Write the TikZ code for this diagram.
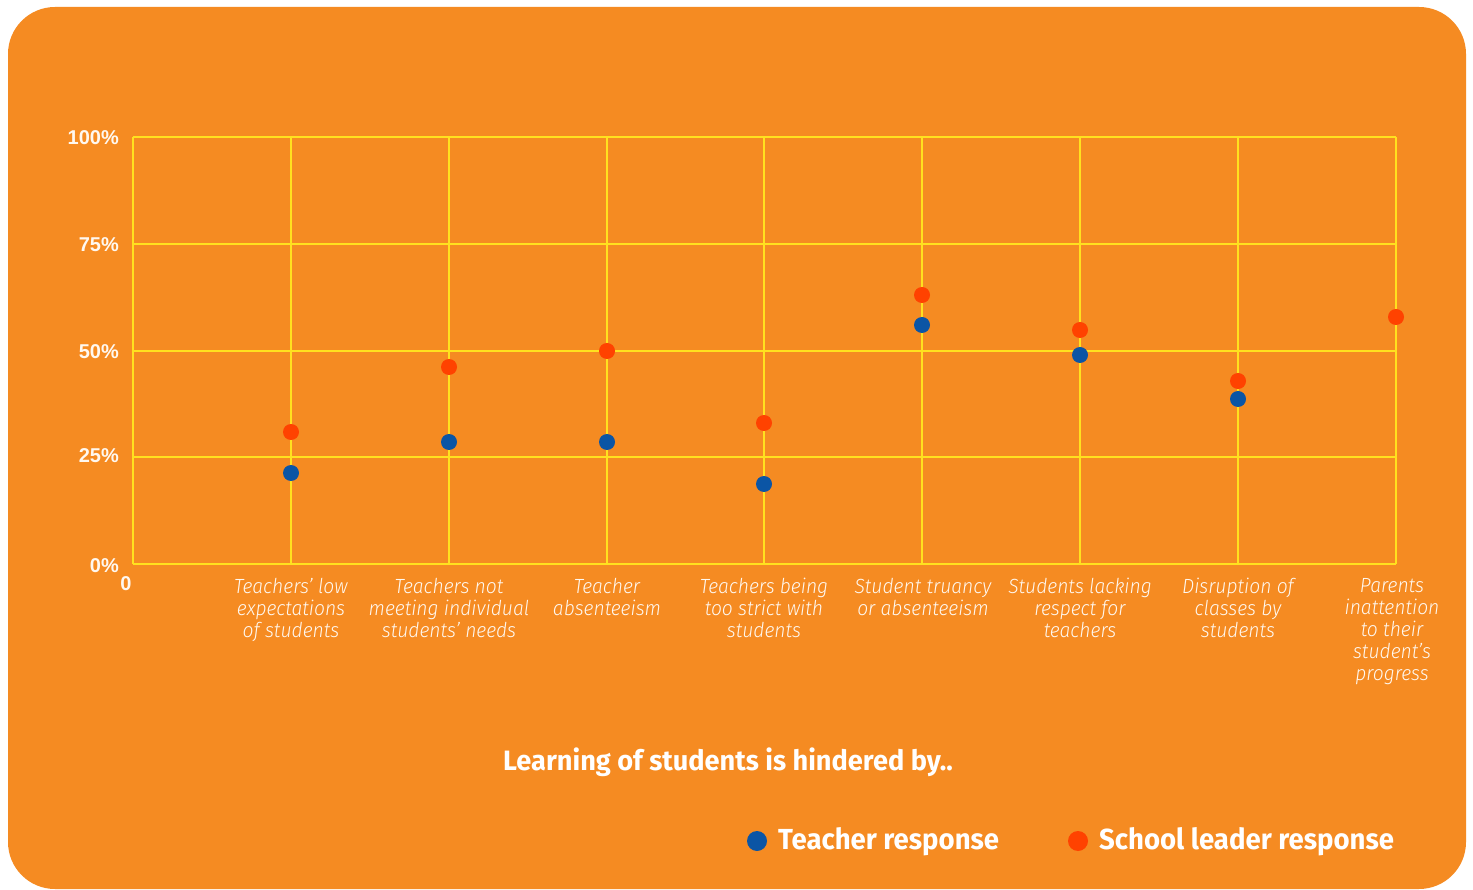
\documentclass[tikz,border=0pt]{standalone}
\usepackage{fontspec}
\setmainfont{Fira Sans}
\newfontfamily\axisfont{Liberation Sans}
\newfontfamily\catfont[FakeStretch=0.94]{Fira Sans Light}
\newfontfamily\titlefont[FakeStretch=0.97]{Fira Sans}
\newfontfamily\legfont[FakeStretch=0.95]{Fira Sans}
\definecolor{bgorange}{HTML}{F58B22}
\definecolor{gridyellow}{HTML}{FFE11F}
\definecolor{dotred}{HTML}{FF4200}
\definecolor{dotblue}{HTML}{0B55A5}
\definecolor{labwhite}{HTML}{FFF8F0}
\tikzset{
  gridline/.style={draw=gridyellow, line width=1.4pt},
  tdot/.style={circle, fill=dotblue, inner sep=0pt, minimum size=16pt},
  sdot/.style={circle, fill=dotred, inner sep=0pt, minimum size=16pt},
  ylab/.style={anchor=east, text=labwhite, font=\axisfont\bfseries\fontsize{20}{22}\selectfont, inner sep=0pt},
  catlab/.style={anchor=north, align=center, text=labwhite, inner sep=0pt, font=\catfont\itshape\fontsize{20.5}{22}\selectfont},
  titlelab/.style={text=white, inner sep=0pt, font=\titlefont\bfseries\fontsize{28}{30}\selectfont},
  leglab/.style={anchor=west, text=white, inner sep=0pt, font=\legfont\bfseries\fontsize{29}{30}\selectfont},
}
\begin{document}
\begin{tikzpicture}[x=1pt,y=-1pt]
\useasboundingbox (0,0) rectangle (1473,890);
\fill[white] (0,0) rectangle (1473,890);
\fill[bgorange, rounded corners=47pt] (8,7) rectangle (1466,889);
% grid
\foreach \yy in {137,244,351,457,564} \draw[gridline] (133,\yy) -- (1396,\yy);
\foreach \xx in {133,291,449,607,764,922,1080,1238,1396} \draw[gridline] (\xx,137) -- (\xx,564);
% y labels
\node[ylab] (y100) at (119,138) {100\%};
\node[ylab] (y75) at (119,245) {75\%};
\node[ylab] (y50) at (119,352) {50\%};
\node[ylab] (y25) at (119,456) {25\%};
\node[ylab] (y0) at (119,566) {0\%};
\node[ylab, anchor=center] (x0) at (126,584) {0};
% category labels
\node[catlab] (c1) at (291,578) {Teachers’ low\\expectations\\of students};
\node[catlab] (c2) at (449,578) {Teachers not\\meeting individual\\students’ needs};
\node[catlab] (c3) at (607,578) {Teacher\\absenteeism};
\node[catlab] (c4) at (764,578) {Teachers being\\too strict with\\students};
\node[catlab] (c5) at (923,578) {Student truancy\\or absenteeism};
\node[catlab] (c6) at (1080,578) {Students lacking\\respect for\\teachers};
\node[catlab] (c7) at (1238,578) {Disruption of\\classes by\\students};
\node[catlab] (c8) at (1392,578) {Parents\\inattention\\to their\\student’s\\progress};
% school leader dots
\node[sdot] (s1) at (291,432) {};
\node[sdot] (s2) at (449,367) {};
\node[sdot] (s3) at (607,351) {};
\node[sdot] (s4) at (764,423) {};
\node[sdot] (s5) at (922,295) {};
\node[sdot] (s6) at (1080,330) {};
\node[sdot] (s7) at (1238,381) {};
\node[sdot] (s8) at (1396,317) {};
% teacher dots
\node[tdot] (t1) at (291,473) {};
\node[tdot] (t2) at (449,442) {};
\node[tdot] (t3) at (607,442) {};
\node[tdot] (t4) at (764,484) {};
\node[tdot] (t5) at (922,325) {};
\node[tdot] (t6) at (1080,355) {};
\node[tdot] (t7) at (1238,399) {};
% title
\node[titlelab] (title) at (728,762) {Learning of students is hindered by..};
% legend
\node[tdot, minimum size=20pt] (lt) at (757,841) {};
\node[leglab] (ltt) at (778,842) {Teacher response};
\node[sdot, minimum size=20pt] (ls) at (1078,841) {};
\node[leglab] (lst) at (1099,842) {School leader response};
\end{tikzpicture}
\end{document}
